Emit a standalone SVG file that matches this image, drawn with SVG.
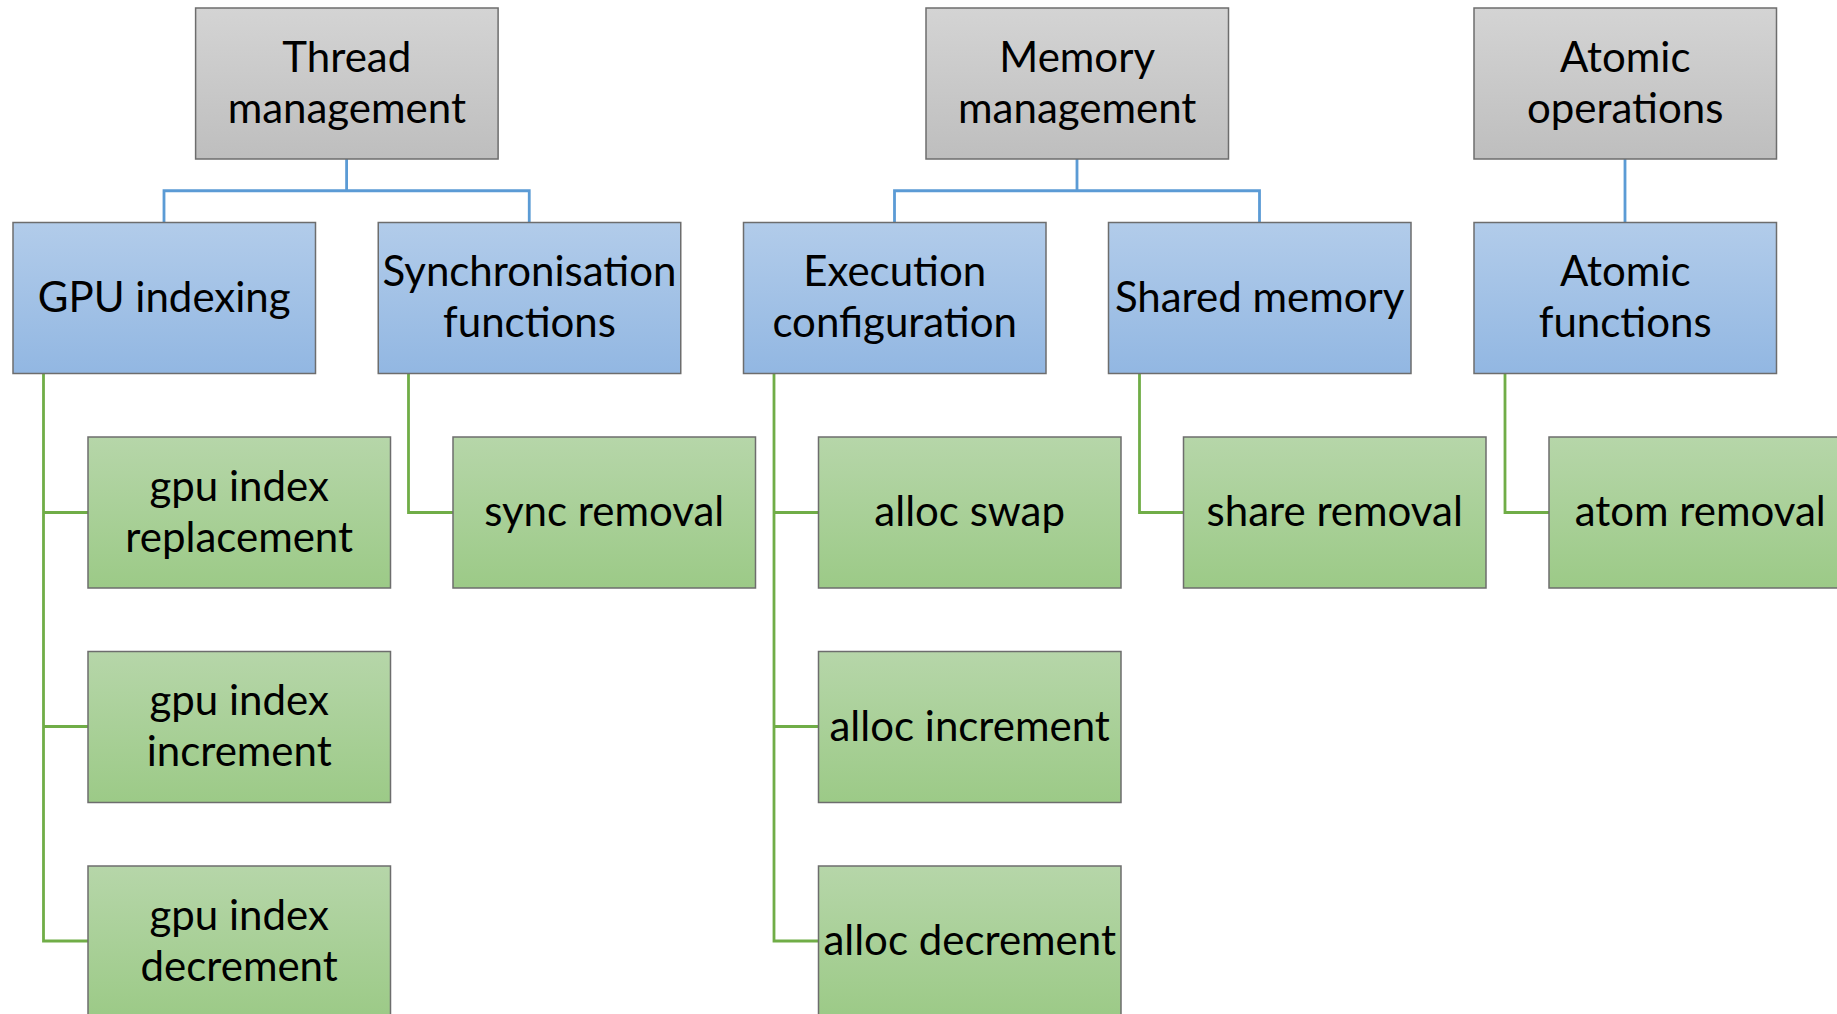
<svg xmlns="http://www.w3.org/2000/svg" width="1837" height="1014" viewBox="0 0 1837 1014">
<defs>
<linearGradient id="gGray" x1="0" y1="0" x2="0" y2="1"><stop offset="0" stop-color="#D4D4D4"/><stop offset="1" stop-color="#BEBEBE"/></linearGradient>
<linearGradient id="gBlue" x1="0" y1="0" x2="0" y2="1"><stop offset="0" stop-color="#B2CCEA"/><stop offset="1" stop-color="#92B7E2"/></linearGradient>
<linearGradient id="gGreen" x1="0" y1="0" x2="0" y2="1"><stop offset="0" stop-color="#B6D6A9"/><stop offset="1" stop-color="#9CCA87"/></linearGradient>
</defs>
<style>
.box{stroke:#6D6D6D;stroke-width:1.5}
.gray{fill:url(#gGray)}
.blue{fill:url(#gBlue)}
.green{fill:url(#gGreen)}
text{font-family:Lato,"Liberation Sans",sans-serif;font-size:42px;fill:#000;text-anchor:middle}
.cb{fill:none;stroke:#5B9BD5;stroke-width:2.8}
.cg{fill:none;stroke:#70AD47;stroke-width:2.8}
</style>
<rect width="1837" height="1014" fill="#FFFFFF"/>
<g id="connectors">
<path class="cb" d="M346.6,159 V190.75 M164,222.5 V190.75 H529.25 V222.5"/>
<path class="cb" d="M1077,159 V190.75 M894.5,222.5 V190.75 H1259.5 V222.5"/>
<path class="cb" d="M1625,159 V222.5"/>
<path class="cg" d="M43.5,373.5 V941 H88 M43.5,512.5 H88 M43.5,726.5 H88"/>
<path class="cg" d="M408.5,373.5 V512.5 H453"/>
<path class="cg" d="M774,373.5 V941 H818.5 M774,512.5 H818.5 M774,726.5 H818.5"/>
<path class="cg" d="M1139.5,373.5 V512.5 H1183.5"/>
<path class="cg" d="M1505,373.5 V512.5 H1549"/>
</g>
<g id="thread-management"><rect class="box gray" x="195.6" y="8" width="302.5" height="151"/><text x="346.8" y="71.5">Thread</text><text x="346.8" y="122.5">management</text></g>
<g id="memory-management"><rect class="box gray" x="926" y="8" width="302.5" height="151"/><text x="1077.2" y="71.5">Memory</text><text x="1077.2" y="122.5">management</text></g>
<g id="atomic-operations"><rect class="box gray" x="1474" y="8" width="302.5" height="151"/><text x="1625.2" y="71.5">Atomic</text><text x="1625.2" y="122.5">operations</text></g>
<g id="gpu-indexing"><rect class="box blue" x="13" y="222.5" width="302.5" height="151"/><text x="164.2" y="311.5">GPU indexing</text></g>
<g id="synchronisation-functions"><rect class="box blue" x="378.25" y="222.5" width="302.5" height="151"/><text x="529.5" y="286">Synchronisation</text><text x="529.5" y="337">functions</text></g>
<g id="execution-configuration"><rect class="box blue" x="743.5" y="222.5" width="302.5" height="151"/><text x="894.7" y="286">Execution</text><text x="894.7" y="337">configuration</text></g>
<g id="shared-memory"><rect class="box blue" x="1108.5" y="222.5" width="302.5" height="151"/><text x="1259.7" y="311.5">Shared memory</text></g>
<g id="atomic-functions"><rect class="box blue" x="1474" y="222.5" width="302.5" height="151"/><text x="1625.2" y="286">Atomic</text><text x="1625.2" y="337">functions</text></g>
<g id="gpu-index-replacement"><rect class="box green" x="88" y="437" width="302.5" height="151"/><text x="239.2" y="500.5">gpu index</text><text x="239.2" y="551.5">replacement</text></g>
<g id="gpu-index-increment"><rect class="box green" x="88" y="651.5" width="302.5" height="151"/><text x="239.2" y="715">gpu index</text><text x="239.2" y="766">increment</text></g>
<g id="gpu-index-decrement"><rect class="box green" x="88" y="866" width="302.5" height="151"/><text x="239.2" y="929.5">gpu index</text><text x="239.2" y="980.5">decrement</text></g>
<g id="sync-removal"><rect class="box green" x="453" y="437" width="302.5" height="151"/><text x="604.2" y="526">sync removal</text></g>
<g id="alloc-swap"><rect class="box green" x="818.5" y="437" width="302.5" height="151"/><text x="969.7" y="526">alloc swap</text></g>
<g id="alloc-increment"><rect class="box green" x="818.5" y="651.5" width="302.5" height="151"/><text x="969.7" y="740.5">alloc increment</text></g>
<g id="alloc-decrement"><rect class="box green" x="818.5" y="866" width="302.5" height="151"/><text x="969.7" y="955">alloc decrement</text></g>
<g id="share-removal"><rect class="box green" x="1183.5" y="437" width="302.5" height="151"/><text x="1334.7" y="526">share removal</text></g>
<g id="atom-removal"><rect class="box green" x="1549" y="437" width="302.5" height="151"/><text x="1700.2" y="526">atom removal</text></g>
</svg>
